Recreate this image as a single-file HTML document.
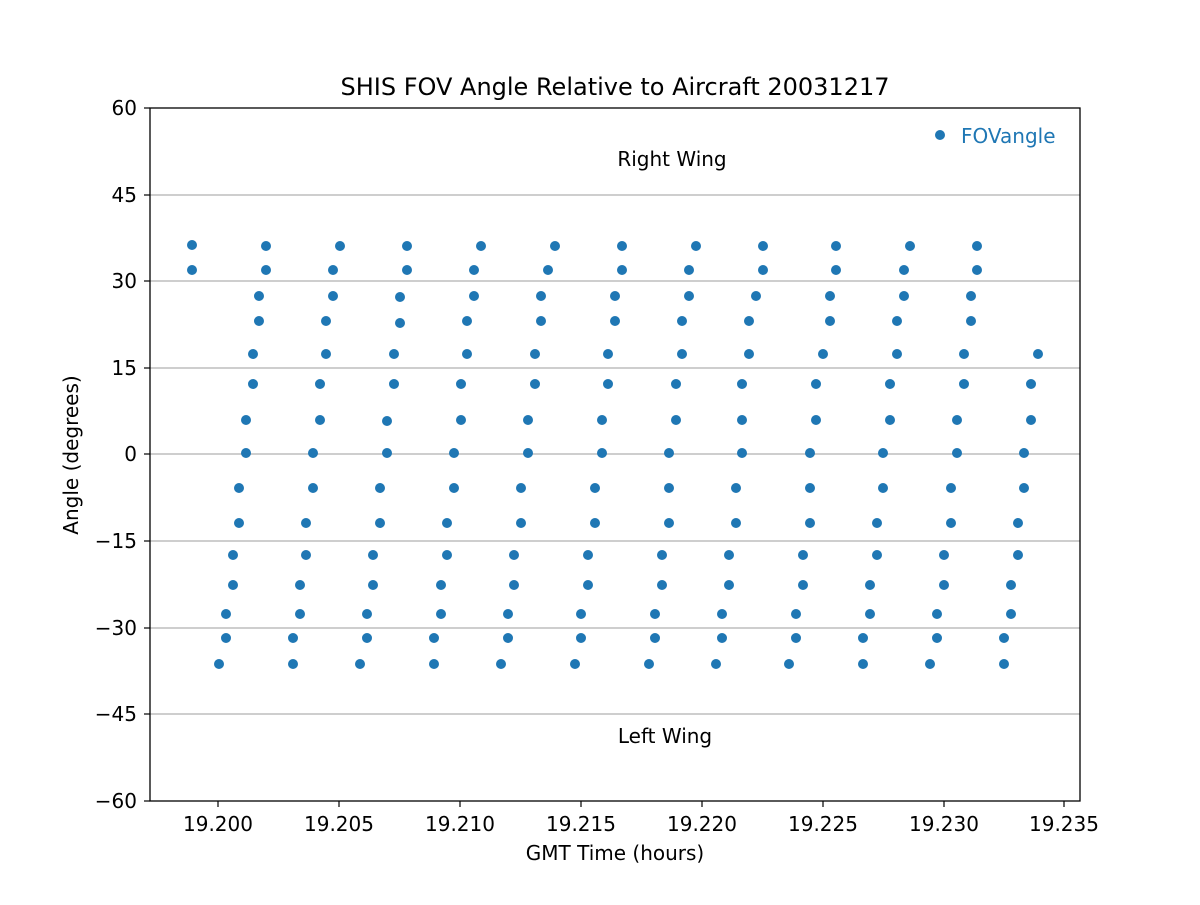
<!DOCTYPE html>
<html><head><meta charset="utf-8"><style>body{margin:0;background:#fff}</style></head><body>
<svg width="1200" height="900" xmlns="http://www.w3.org/2000/svg" font-family="DejaVu Sans, Liberation Sans, sans-serif">
<rect width="1200" height="900" fill="#fff"/>
<g stroke="#b0b0b0" stroke-width="1.3">
<line x1="150" x2="1080" y1="195" y2="195"/><line x1="150" x2="1080" y1="281" y2="281"/>
<line x1="150" x2="1080" y1="368" y2="368"/><line x1="150" x2="1080" y1="454" y2="454"/>
<line x1="150" x2="1080" y1="541" y2="541"/><line x1="150" x2="1080" y1="628" y2="628"/>
<line x1="150" x2="1080" y1="714" y2="714"/>
</g>
<g fill="#1f77b4">
<circle cx="192" cy="245" r="5"/><circle cx="192" cy="270" r="5"/>
<circle cx="219" cy="664" r="5"/><circle cx="226" cy="638" r="5"/><circle cx="226" cy="614" r="5"/><circle cx="233" cy="585" r="5"/><circle cx="233" cy="555" r="5"/><circle cx="239" cy="523" r="5"/><circle cx="239" cy="488" r="5"/><circle cx="246" cy="453" r="5"/><circle cx="246" cy="420" r="5"/><circle cx="253" cy="384" r="5"/><circle cx="253" cy="354" r="5"/><circle cx="259" cy="321" r="5"/><circle cx="259" cy="296" r="5"/><circle cx="266" cy="270" r="5"/><circle cx="266" cy="246" r="5"/>
<circle cx="293" cy="664" r="5"/><circle cx="293" cy="638" r="5"/><circle cx="300" cy="614" r="5"/><circle cx="300" cy="585" r="5"/><circle cx="306" cy="555" r="5"/><circle cx="306" cy="523" r="5"/><circle cx="313" cy="488" r="5"/><circle cx="313" cy="453" r="5"/><circle cx="320" cy="420" r="5"/><circle cx="320" cy="384" r="5"/><circle cx="326" cy="354" r="5"/><circle cx="326" cy="321" r="5"/><circle cx="333" cy="296" r="5"/><circle cx="333" cy="270" r="5"/><circle cx="340" cy="246" r="5"/>
<circle cx="360" cy="664" r="5"/><circle cx="367" cy="638" r="5"/><circle cx="367" cy="614" r="5"/><circle cx="373" cy="585" r="5"/><circle cx="373" cy="555" r="5"/><circle cx="380" cy="523" r="5"/><circle cx="380" cy="488" r="5"/><circle cx="387" cy="453" r="5"/><circle cx="387" cy="421" r="5"/><circle cx="394" cy="384" r="5"/><circle cx="394" cy="354" r="5"/><circle cx="400" cy="323" r="5"/><circle cx="400" cy="297" r="5"/><circle cx="407" cy="270" r="5"/><circle cx="407" cy="246" r="5"/>
<circle cx="434" cy="664" r="5"/><circle cx="434" cy="638" r="5"/><circle cx="441" cy="614" r="5"/><circle cx="441" cy="585" r="5"/><circle cx="447" cy="555" r="5"/><circle cx="447" cy="523" r="5"/><circle cx="454" cy="488" r="5"/><circle cx="454" cy="453" r="5"/><circle cx="461" cy="420" r="5"/><circle cx="461" cy="384" r="5"/><circle cx="467" cy="354" r="5"/><circle cx="467" cy="321" r="5"/><circle cx="474" cy="296" r="5"/><circle cx="474" cy="270" r="5"/><circle cx="481" cy="246" r="5"/>
<circle cx="501" cy="664" r="5"/><circle cx="508" cy="638" r="5"/><circle cx="508" cy="614" r="5"/><circle cx="514" cy="585" r="5"/><circle cx="514" cy="555" r="5"/><circle cx="521" cy="523" r="5"/><circle cx="521" cy="488" r="5"/><circle cx="528" cy="453" r="5"/><circle cx="528" cy="420" r="5"/><circle cx="535" cy="384" r="5"/><circle cx="535" cy="354" r="5"/><circle cx="541" cy="321" r="5"/><circle cx="541" cy="296" r="5"/><circle cx="548" cy="270" r="5"/><circle cx="555" cy="246" r="5"/>
<circle cx="575" cy="664" r="5"/><circle cx="581" cy="638" r="5"/><circle cx="581" cy="614" r="5"/><circle cx="588" cy="585" r="5"/><circle cx="588" cy="555" r="5"/><circle cx="595" cy="523" r="5"/><circle cx="595" cy="488" r="5"/><circle cx="602" cy="453" r="5"/><circle cx="602" cy="420" r="5"/><circle cx="608" cy="384" r="5"/><circle cx="608" cy="354" r="5"/><circle cx="615" cy="321" r="5"/><circle cx="615" cy="296" r="5"/><circle cx="622" cy="270" r="5"/><circle cx="622" cy="246" r="5"/>
<circle cx="649" cy="664" r="5"/><circle cx="655" cy="638" r="5"/><circle cx="655" cy="614" r="5"/><circle cx="662" cy="585" r="5"/><circle cx="662" cy="555" r="5"/><circle cx="669" cy="523" r="5"/><circle cx="669" cy="488" r="5"/><circle cx="669" cy="453" r="5"/><circle cx="676" cy="420" r="5"/><circle cx="676" cy="384" r="5"/><circle cx="682" cy="354" r="5"/><circle cx="682" cy="321" r="5"/><circle cx="689" cy="296" r="5"/><circle cx="689" cy="270" r="5"/><circle cx="696" cy="246" r="5"/>
<circle cx="716" cy="664" r="5"/><circle cx="722" cy="638" r="5"/><circle cx="722" cy="614" r="5"/><circle cx="729" cy="585" r="5"/><circle cx="729" cy="555" r="5"/><circle cx="736" cy="523" r="5"/><circle cx="736" cy="488" r="5"/><circle cx="742" cy="453" r="5"/><circle cx="742" cy="420" r="5"/><circle cx="742" cy="384" r="5"/><circle cx="749" cy="354" r="5"/><circle cx="749" cy="321" r="5"/><circle cx="756" cy="296" r="5"/><circle cx="763" cy="270" r="5"/><circle cx="763" cy="246" r="5"/>
<circle cx="789" cy="664" r="5"/><circle cx="796" cy="638" r="5"/><circle cx="796" cy="614" r="5"/><circle cx="803" cy="585" r="5"/><circle cx="803" cy="555" r="5"/><circle cx="810" cy="523" r="5"/><circle cx="810" cy="488" r="5"/><circle cx="810" cy="453" r="5"/><circle cx="816" cy="420" r="5"/><circle cx="816" cy="384" r="5"/><circle cx="823" cy="354" r="5"/><circle cx="830" cy="321" r="5"/><circle cx="830" cy="296" r="5"/><circle cx="836" cy="270" r="5"/><circle cx="836" cy="246" r="5"/>
<circle cx="863" cy="664" r="5"/><circle cx="863" cy="638" r="5"/><circle cx="870" cy="614" r="5"/><circle cx="870" cy="585" r="5"/><circle cx="877" cy="555" r="5"/><circle cx="877" cy="523" r="5"/><circle cx="883" cy="488" r="5"/><circle cx="883" cy="453" r="5"/><circle cx="890" cy="420" r="5"/><circle cx="890" cy="384" r="5"/><circle cx="897" cy="354" r="5"/><circle cx="897" cy="321" r="5"/><circle cx="904" cy="296" r="5"/><circle cx="904" cy="270" r="5"/><circle cx="910" cy="246" r="5"/>
<circle cx="930" cy="664" r="5"/><circle cx="937" cy="638" r="5"/><circle cx="937" cy="614" r="5"/><circle cx="944" cy="585" r="5"/><circle cx="944" cy="555" r="5"/><circle cx="951" cy="523" r="5"/><circle cx="951" cy="488" r="5"/><circle cx="957" cy="453" r="5"/><circle cx="957" cy="420" r="5"/><circle cx="964" cy="384" r="5"/><circle cx="964" cy="354" r="5"/><circle cx="971" cy="321" r="5"/><circle cx="971" cy="296" r="5"/><circle cx="977" cy="270" r="5"/><circle cx="977" cy="246" r="5"/>
<circle cx="1004" cy="664" r="5"/><circle cx="1004" cy="638" r="5"/><circle cx="1011" cy="614" r="5"/><circle cx="1011" cy="585" r="5"/><circle cx="1018" cy="555" r="5"/><circle cx="1018" cy="523" r="5"/><circle cx="1024" cy="488" r="5"/><circle cx="1024" cy="453" r="5"/><circle cx="1031" cy="420" r="5"/><circle cx="1031" cy="384" r="5"/><circle cx="1038" cy="354" r="5"/>
</g>
<rect x="150" y="108" width="930" height="693" fill="none" stroke="#000" stroke-width="1.3"/>
<g stroke="#000" stroke-width="1.2">
<line x1="144" x2="150" y1="108" y2="108"/><line x1="144" x2="150" y1="195" y2="195"/><line x1="144" x2="150" y1="281" y2="281"/><line x1="144" x2="150" y1="368" y2="368"/><line x1="144" x2="150" y1="454" y2="454"/><line x1="144" x2="150" y1="541" y2="541"/><line x1="144" x2="150" y1="628" y2="628"/><line x1="144" x2="150" y1="714" y2="714"/><line x1="144" x2="150" y1="801" y2="801"/>
<line x1="218" x2="218" y1="801" y2="807"/><line x1="339" x2="339" y1="801" y2="807"/><line x1="460" x2="460" y1="801" y2="807"/><line x1="581" x2="581" y1="801" y2="807"/><line x1="702" x2="702" y1="801" y2="807"/><line x1="823" x2="823" y1="801" y2="807"/><line x1="944" x2="944" y1="801" y2="807"/><line x1="1064" x2="1064" y1="801" y2="807"/>
</g>
<g font-size="20" text-anchor="end">
<text x="137" y="115">60</text><text x="137" y="202">45</text><text x="137" y="288">30</text><text x="137" y="375">15</text><text x="137" y="461">0</text><text x="137" y="548">−15</text><text x="137" y="635">−30</text><text x="137" y="721">−45</text><text x="137" y="808">−60</text>
</g>
<g font-size="20" text-anchor="middle">
<text x="218" y="831">19.200</text><text x="339" y="831">19.205</text><text x="460" y="831">19.210</text><text x="581" y="831">19.215</text><text x="702" y="831">19.220</text><text x="823" y="831">19.225</text><text x="944" y="831">19.230</text><text x="1064" y="831">19.235</text>
<text x="615" y="860">GMT Time (hours)</text>
<text x="615" y="95" font-size="24">SHIS FOV Angle Relative to Aircraft 20031217</text>
<text x="672" y="166">Right Wing</text>
<text x="665" y="743">Left Wing</text>
<text transform="translate(78,455) rotate(-90)">Angle (degrees)</text>
</g>
<circle cx="940" cy="135" r="5" fill="#1f77b4"/>
<text x="961" y="143" font-size="20" fill="#1f77b4">FOVangle</text>
</svg>
</body></html>
